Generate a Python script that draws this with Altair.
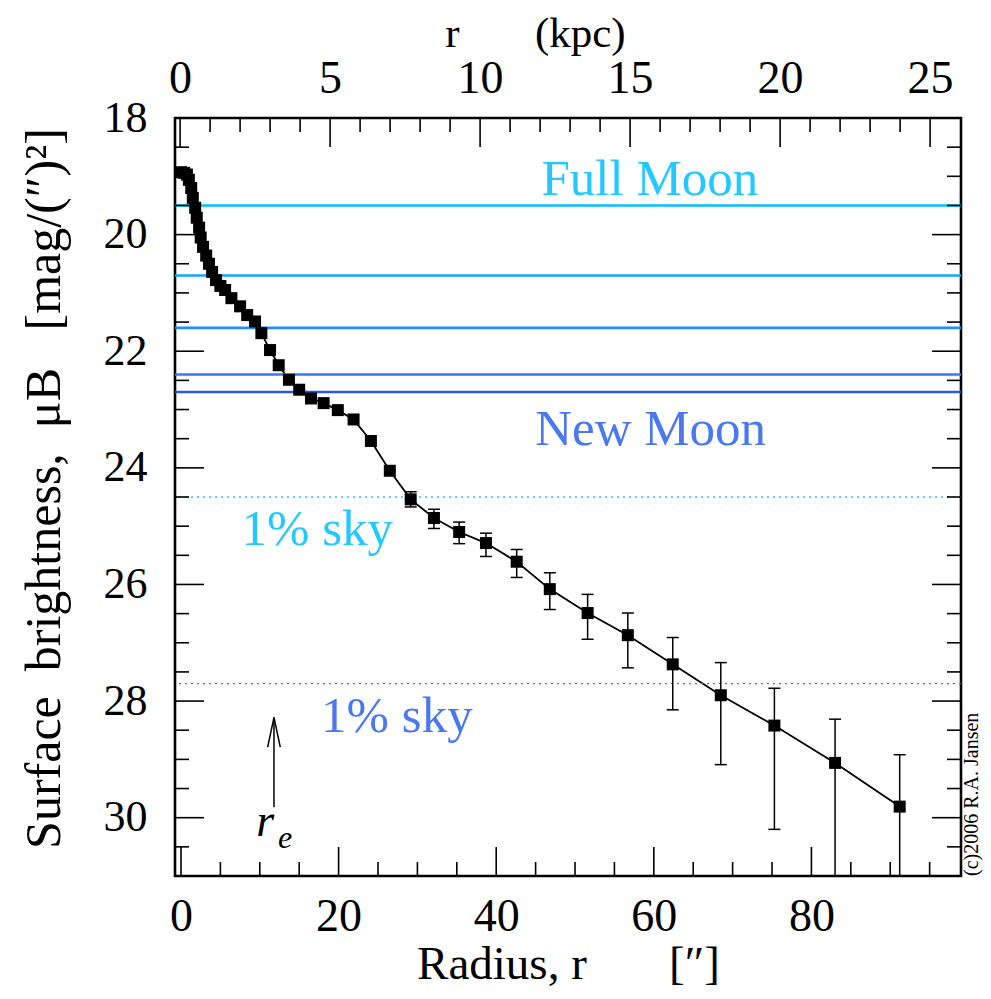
import altair as alt
import pandas as pd

# ---------------- data ----------------
radius = [0.0, 0.4, 0.75, 1.0, 1.3, 1.5, 1.8, 2.0, 2.3, 2.5, 2.8, 3.2, 3.55, 3.95,
          4.45, 5.0, 5.6, 6.4, 7.5, 8.4, 9.4, 10.2, 11.3, 12.4, 13.7, 15.0, 16.5,
          18.1, 19.9, 21.9, 24.1, 26.5, 29.15, 32.1, 35.3, 38.7, 42.6, 46.8, 51.6,
          56.7, 62.4, 68.5, 75.3, 83.0, 91.2]
mu_b = [18.93, 18.94, 18.97, 19.06, 19.2, 19.37, 19.54, 19.71, 19.88, 20.05, 20.21,
        20.36, 20.5, 20.64, 20.78, 20.88, 20.95, 21.09, 21.23, 21.38, 21.49, 21.69,
        21.98, 22.24, 22.49, 22.66, 22.81, 22.89, 23.01, 23.17, 23.54, 24.05, 24.54,
        24.86, 25.1, 25.29, 25.61, 26.08, 26.49, 26.87, 27.37, 27.9, 28.42, 29.06, 29.81]

err_r = [29.15, 32.1, 35.3, 38.7, 42.6, 46.8, 51.6, 56.7, 62.4, 68.5, 75.3, 83.0, 91.2]
err_lo = [24.41, 24.71, 24.93, 25.12, 25.40, 25.80, 26.17, 26.49, 26.91, 27.34, 27.78, 28.31, 28.92]
err_hi = [24.67, 25.04, 25.30, 25.52, 25.88, 26.43, 26.94, 27.43, 28.15, 29.09, 30.20, 32.0, 32.0]

moon_levels = [19.5, 20.7, 21.6, 22.4, 22.7]
moon_colors = ["#00BFFF", "#12A6F8", "#1E8FFF", "#3A78F0", "#2A58E6"]

sky_levels = [24.5, 27.7]
sky_colors = ["#2CC4F0", "#4A6CE8"]

label_text = ["Full Moon", "New Moon", "1% sky", "1% sky"]
label_r = [59.5, 59.6, 17.3, 27.4]
label_mu = [19.06, 23.35, 25.07, 28.28]
label_colors = ["#22C8FF", "#4A78F0", "#22C8FF", "#4A78F0"]

arrow_r = 11.8
arrow_tip = 28.28
arrow_base = 29.82
head_r = [11.0, 11.8, 12.6]
head_mu = [28.79, 28.28, 28.79]

x_major = [0, 20, 40, 60, 80]
x_minor = [5, 10, 15, 25, 30, 35, 45, 50, 55, 65, 70, 75, 85, 90, 95]
kpc_major = [0, 5, 10, 15, 20, 25]
kpc_minor = [1, 2, 3, 4, 6, 7, 8, 9, 11, 12, 13, 14, 16, 17, 18, 19, 21, 22, 23, 24]
y_major = [18, 20, 22, 24, 26, 28, 30]
y_minor = [18.5, 19, 19.5, 20.5, 21, 21.5, 22.5, 23, 23.5, 24.5, 25, 25.5,
           26.5, 27, 27.5, 28.5, 29, 29.5, 30.5]

S = "\u00A0"
copyright_text = "(c)2006" + S + "R.A." + S + "Jansen"
x_title = "Radius," + S + "r" + S * 7 + "[″]"
y_title = "Surface" + S * 2 + "brightness," + S * 2 + "μB" + S * 3 + "[mag/(″)²]"
k_title = "r" + S * 7 + "(kpc)"

# ---------------- chart ----------------
W, H = 786, 758
FONT = "Liberation Serif"
MAJ, MIN = 29, 14

X_DOM = [-0.76, 98.98]
K_DOM = [-0.17, 26.03]


def xs():
    return alt.Scale(domain=X_DOM, nice=False, zero=False)


def ks():
    return alt.Scale(domain=K_DOM, nice=False, zero=False)


def ys():
    return alt.Scale(domain=[18.0, 31.0], nice=False, zero=False, reverse=True)


def x_axis():
    return alt.Axis(orient="bottom", values=x_major, ticks=False, domain=False, grid=False,
                    labelFontSize=46, labelFont=FONT, labelPadding=18, labelColor="black",
                    title=x_title, titleFont=FONT, titleFontSize=47,
                    titleFontWeight="normal", titlePadding=2, titleColor="black")


def y_axis():
    return alt.Axis(orient="left", values=y_major, ticks=False, domain=False, grid=False,
                    labelFontSize=44, labelFont=FONT, labelPadding=28, labelColor="black",
                    title=y_title, titleFont=FONT, titleFontSize=50, titleY=370,
                    titleFontWeight="normal", titlePadding=34, titleColor="black")


k_axis = alt.Axis(orient="top", values=kpc_major, ticks=False, domain=False, grid=False,
                  labelFontSize=46, labelFont=FONT, labelPadding=16, labelColor="black",
                  title=k_title, titleFont=FONT, titleFontSize=43, titleX=360,
                  titleFontWeight="normal", titlePadding=0, titleColor="black")

prof = pd.DataFrame({"r": radius, "mu": mu_b})
errs = pd.DataFrame({"r": err_r, "lo": err_lo, "hi": err_hi})
moons = pd.DataFrame({"mu": moon_levels, "c": moon_colors})
skies = pd.DataFrame({"mu": sky_levels, "c": sky_colors})
labels = pd.DataFrame({"t": label_text, "r": label_r, "mu": label_mu, "c": label_colors})
head = pd.DataFrame({"r": head_r, "mu": head_mu, "i": list(range(len(head_r)))})
shaft = pd.DataFrame({"r": [arrow_r], "a": [arrow_tip], "b": [arrow_base]})


def X(f="r"):
    return alt.X(f"{f}:Q", scale=xs(), axis=None)


def Y(f="mu"):
    return alt.Y(f"{f}:Q", scale=ys(), axis=y_axis())


moon_rules = alt.Chart(moons).mark_rule(strokeWidth=2.6).encode(
    y=Y(), color=alt.Color("c:N", scale=None))
sky_rules = alt.Chart(skies).mark_rule(strokeWidth=1.4, strokeDash=[2, 4]).encode(
    y=Y(), color=alt.Color("c:N", scale=None))

text_marks = alt.Chart(labels).mark_text(font=FONT, fontSize=51, align="center",
                                         baseline="middle").encode(
    x=X(), y=Y(), text="t:N", color=alt.Color("c:N", scale=None))

line = alt.Chart(prof).mark_line(color="black", strokeWidth=1.8).encode(
    x=alt.X("r:Q", scale=xs(), axis=x_axis()), y=Y())
err_rules = alt.Chart(errs).mark_rule(color="black", strokeWidth=1.5, clip=True).encode(
    x=X(), y=Y("lo"), y2="hi:Q")
cap_lo = alt.Chart(errs).mark_tick(color="black", orient="horizontal", size=12,
                                   thickness=1.5, opacity=1, clip=True).encode(x=X(), y=Y("lo"))
cap_hi = alt.Chart(errs).mark_tick(color="black", orient="horizontal", size=12,
                                   thickness=1.5, opacity=1, clip=True).encode(x=X(), y=Y("hi"))
points = alt.Chart(prof).mark_square(color="black", size=144, opacity=1, filled=True).encode(
    x=X(), y=Y())

arrow_shaft = alt.Chart(shaft).mark_rule(color="black", strokeWidth=1.5).encode(
    x=X(), y=Y("a"), y2="b:Q")
arrow_head = alt.Chart(head).mark_line(color="black", strokeWidth=1.5).encode(
    x=X(), y=Y(), order="i:O")
re_r = alt.Chart(pd.DataFrame({"r": [10.7], "mu": [30.07], "t": ["r"]})).mark_text(
    font=FONT, fontSize=46, fontStyle="italic", color="black").encode(x=X(), y=Y(), text="t:N")
re_e = alt.Chart(pd.DataFrame({"r": [13.2], "mu": [30.35], "t": ["e"]})).mark_text(
    font=FONT, fontSize=32, fontStyle="italic", color="black").encode(x=X(), y=Y(), text="t:N")

copyright = alt.Chart(pd.DataFrame({"t": [copyright_text]})).mark_text(
    font=FONT, fontSize=20, angle=270, align="left", baseline="middle", color="black").encode(
    x=alt.value(W + 11), y=alt.value(H), text="t:N")


def xticks(vals, n):
    return alt.Chart(pd.DataFrame({"v": vals})).mark_rule(color="black", strokeWidth=1.6).encode(
        x=alt.X("v:Q", scale=xs(), axis=None), y=alt.value(H), y2=alt.value(H - n))


def yticks(vals, n, right=False):
    x0 = W if right else 0
    x1 = W - n if right else n
    return alt.Chart(pd.DataFrame({"mu": vals})).mark_rule(color="black", strokeWidth=1.6).encode(
        y=Y(), x=alt.value(x0), x2=alt.value(x1))


kpc_major_layer = alt.Chart(pd.DataFrame({"k": kpc_major})).mark_rule(
    color="black", strokeWidth=1.6).encode(
    x=alt.X("k:Q", scale=ks(), axis=k_axis), y=alt.value(0), y2=alt.value(MAJ))
kpc_minor_layer = alt.Chart(pd.DataFrame({"k": kpc_minor})).mark_rule(
    color="black", strokeWidth=1.6).encode(
    x=alt.X("k:Q", scale=ks(), axis=None), y=alt.value(0), y2=alt.value(MIN))

chart = alt.layer(
    line, moon_rules, sky_rules, text_marks, err_rules, cap_lo, cap_hi, points,
    arrow_shaft, arrow_head, re_r, re_e, copyright,
    xticks(x_major, MAJ), xticks(x_minor, MIN),
    yticks(y_major, MAJ), yticks(y_minor, MIN),
    yticks(y_major, MAJ, True), yticks(y_minor, MIN, True),
    kpc_major_layer, kpc_minor_layer,
).resolve_scale(x="independent").properties(
    width=W, height=H,
    autosize=alt.AutoSizeParams(type="none"),
    padding={"left": 167, "top": 110, "right": 22, "bottom": 115},
    background="white",
).configure_view(stroke="black", strokeWidth=2.6)

chart.save("out.html", embed_options={"renderer": "svg", "actions": False})
